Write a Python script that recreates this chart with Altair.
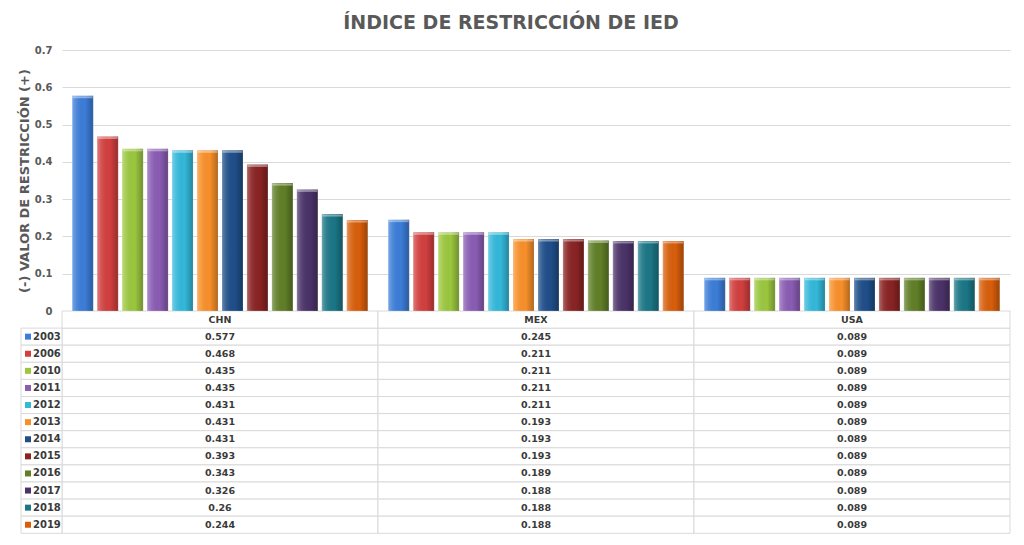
import altair as alt
import pandas as pd

# ---- data ----
years = ["2003", "2006", "2010", "2011", "2012", "2013", "2014", "2015", "2016", "2017", "2018", "2019"]
countries = ["CHN", "MEX", "USA"]
chn = [0.577, 0.468, 0.435, 0.435, 0.431, 0.431, 0.431, 0.393, 0.343, 0.326, 0.26, 0.244]
mex = [0.245, 0.211, 0.211, 0.211, 0.211, 0.193, 0.193, 0.193, 0.189, 0.188, 0.188, 0.188]
usa = [0.089, 0.089, 0.089, 0.089, 0.089, 0.089, 0.089, 0.089, 0.089, 0.089, 0.089, 0.089]
colors = ["#3B7DD8", "#D23F3F", "#9BC73F", "#8A5CB4", "#33B8DA", "#F8902A",
          "#1F4E89", "#8A2323", "#607F27", "#4B3369", "#1B7686", "#D85E0B"]
y_ticks = [0, 0.1, 0.2, 0.3, 0.4, 0.5, 0.6, 0.7]
rows = ["hdr"] + years

series = {"CHN": chn, "MEX": mex, "USA": usa}
df = pd.DataFrame([
    {"country": c, "year": y, "row": y, "value": v}
    for c in countries for y, v in zip(years, series[c])
])
df_hdr = pd.DataFrame({"country": countries, "row": ["hdr"] * 3})
df_years = pd.DataFrame({"year": years, "row": years})

FONT = "DejaVu Sans"
TXT = "#3a3a3a"
AX = "#595959"
GRID = "#d9d9d9"
W, H = 948, 261
ROW_H = 17.1

x_enc = alt.X("country:N", scale=alt.Scale(domain=countries, paddingInner=0, paddingOuter=0), axis=None)
xoff = alt.XOffset("year:N", scale=alt.Scale(domain=years, paddingInner=0.16, paddingOuter=0.41))
y_scale = alt.Scale(domain=[0, 0.7], nice=False, zero=True)
y_bar = alt.Y("value:Q", scale=y_scale, axis=alt.Axis(
    values=y_ticks, format="~f", title="(-) VALOR DE RESTRICCIÓN (+)",
    titleFont=FONT, titleFontSize=13, titleFontWeight="bold", titleColor=AX, titlePadding=3,
    labelFont=FONT, labelFontSize=10, labelFontWeight="bold", labelColor=AX, labelPadding=10,
    ticks=False, domain=False, grid=True, gridColor=GRID, gridWidth=1))
y_plain = alt.Y("value:Q", scale=y_scale, axis=None)
color_enc = alt.Color("year:N", scale=alt.Scale(domain=years, range=colors), legend=None)
row_scale = alt.Scale(type="band", domain=rows, range=[H, H + len(rows) * ROW_H], paddingInner=0, paddingOuter=0)
y_row = alt.Y("row:N", scale=row_scale, axis=None)

bars = alt.Chart(df).mark_bar(stroke="#ffffff", strokeOpacity=0.35, strokeWidth=0.6).encode(
    x=x_enc, xOffset=xoff, y=y_bar, color=color_enc)

shade = alt.Chart(df).mark_bar(fill={
    "gradient": "linear", "x1": 0, "y1": 0, "x2": 1, "y2": 0,
    "stops": [
        {"offset": 0, "color": "rgba(255,255,255,0.30)"},
        {"offset": 0.2, "color": "rgba(255,255,255,0.10)"},
        {"offset": 0.6, "color": "rgba(0,0,0,0.0)"},
        {"offset": 1, "color": "rgba(0,0,0,0.28)"},
    ]}).encode(x=x_enc, xOffset=xoff, y=y_plain)

cap = alt.Chart(df).mark_tick(color="white", opacity=0.4, thickness=2, size=20, yOffset=1.5).encode(
    x=x_enc, xOffset=xoff, y=y_plain)

cells = alt.Chart(df).mark_rect(fill="white", stroke=GRID, strokeWidth=1).encode(x=x_enc, y=y_row)
hdr_cells = alt.Chart(df_hdr).mark_rect(fill="white", stroke=GRID, strokeWidth=1).encode(x=x_enc, y=y_row)
lab_cells = alt.Chart(df_years).mark_rect(fill="white", stroke=GRID, strokeWidth=1).encode(
    x=alt.value(-41), x2=alt.value(0), y=y_row)

markers = alt.Chart(df_years).mark_point(shape="square", filled=True, size=36, opacity=1).encode(
    x=alt.value(-34), y=y_row, color=color_enc)
year_txt = alt.Chart(df_years).mark_text(align="left", font=FONT, fontSize=10, fontWeight="bold", color=TXT).encode(
    x=alt.value(-29), y=y_row, text="year:N")
hdr_txt = alt.Chart(df_hdr).mark_text(font=FONT, fontSize=9.5, fontWeight="bold", color=TXT).encode(
    x=x_enc, y=y_row, text="country:N")
val_txt = alt.Chart(df).mark_text(font=FONT, fontSize=9.5, fontWeight="bold", color=TXT).encode(
    x=x_enc, y=y_row, text=alt.Text("value:Q", format="~g"))

chart = alt.layer(
    cells, hdr_cells, lab_cells, bars, shade, cap, markers, year_txt, hdr_txt, val_txt
).resolve_scale(y="independent").properties(
    width=W, height=H,
    title=alt.TitleParams("ÍNDICE DE RESTRICCIÓN DE IED", font=FONT, fontSize=19, fontWeight="bold",
                          color=AX, anchor="middle", dx=-25, offset=12),
    autosize=alt.AutoSizeParams(type="none"),
    padding={"left": 54, "top": 42, "right": 4, "bottom": 224},
    background="white",
).configure_view(stroke=None)

chart.save("out.html", embed_options={"renderer": "svg", "actions": False})
